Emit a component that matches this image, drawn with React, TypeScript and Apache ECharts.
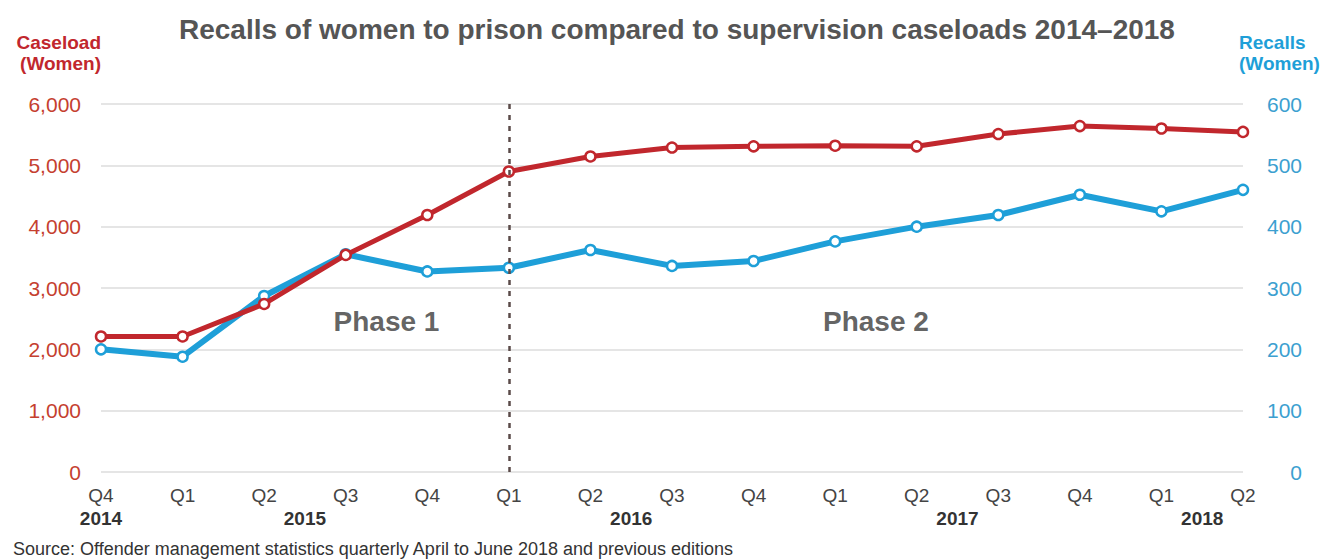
import React, { useEffect, useRef } from "react";
import * as echarts from "echarts";

const quarters = ["Q4", "Q1", "Q2", "Q3", "Q4", "Q1", "Q2", "Q3", "Q4", "Q1", "Q2", "Q3", "Q4", "Q1", "Q2"];
const periodYears = [2014, 2015, 2015, 2015, 2015, 2016, 2016, 2016, 2016, 2017, 2017, 2017, 2017, 2018, 2018];
const caseloadWomen = [2210, 2210, 2740, 3540, 4190, 4900, 5145, 5290, 5310, 5320, 5310, 5510, 5640, 5600, 5545];
const recallsWomen = [200, 188, 287, 355, 327, 333, 362, 336, 344, 376, 400, 419, 452, 425, 460];
const leftTicks = { min: 0, max: 6000, interval: 1000 };
const rightTicks = { min: 0, max: 600, interval: 100 };
const phaseBoundary = 5; // index of Q1 2016
const phaseLabels = [
  { text: "Phase 1", x: 3.5, y: 2450 },
  { text: "Phase 2", x: 9.5, y: 2450 },
];
const titleText = "Recalls of women to prison compared to supervision caseloads 2014–2018";
const sourceText = "Source: Offender management statistics quarterly April to June 2018 and previous editions";

const RED = "#c1272d";
const BLUE = "#1e9fd8";
const FONT = "Liberation Sans, Arial, Helvetica, sans-serif";

export default function App() {
  const ref = useRef<HTMLDivElement>(null);
  useEffect(() => {
    if (!ref.current) return;
    const chart = echarts.init(ref.current, null, { renderer: "svg" });
    const periods = quarters.map((q, i) => `${q} ${periodYears[i]}`);
    const uniqueYears = Array.from(new Set(periodYears));
    const yearPos = uniqueYears.map((y) => {
      const idx = periodYears.map((py, i) => (py === y ? i : -1)).filter((i) => i >= 0);
      return idx.reduce((a, b) => a + b, 0) / idx.length;
    });
    const yearAt = (v: number) => {
      const k = yearPos.findIndex((p) => Math.abs(p - v) < 1e-6);
      return k >= 0 ? String(uniqueYears[k]) : "";
    };
    chart.setOption({
      animation: false,
      textStyle: { fontFamily: FONT },
      title: [
        {
          text: titleText,
          left: 174,
          top: 10,
          textStyle: { fontSize: 28, fontWeight: "bold", color: "#555555", fontFamily: FONT },
        },
        {
          text: sourceText,
          left: 8,
          top: 535,
          textStyle: { fontSize: 18, fontWeight: "normal", color: "#333333", fontFamily: FONT },
        },
      ],
      grid: { left: 101, right: 86, top: 104, bottom: 87 },
      xAxis: [
        {
          type: "category",
          data: periods,
          boundaryGap: false,
          axisLine: { show: false },
          axisTick: { show: false },
          axisLabel: {
            formatter: (v: string) => v.split(" ")[0],
            fontSize: 19,
            color: "#444444",
            margin: 14,
            interval: 0,
          },
          splitLine: { show: false },
        },
        {
          type: "value",
          position: "bottom",
          min: 0,
          max: quarters.length - 1,
          axisLine: { show: false },
          axisTick: { show: false },
          splitLine: { show: false },
          axisLabel: {
            customValues: yearPos,
            formatter: (v: number) => yearAt(v),
            fontSize: 19,
            fontWeight: "bold",
            color: "#333333",
            margin: 37,
            showMinLabel: true,
            showMaxLabel: true,
          },
        },
      ],
      yAxis: [
        {
          type: "value",
          min: leftTicks.min,
          max: leftTicks.max,
          interval: leftTicks.interval,
          name: "Caseload\n(Women)",
          nameLocation: "end",
          nameGap: 30,
          nameTextStyle: { color: RED, fontWeight: "bold", fontSize: 19, lineHeight: 21, align: "right" },
          axisLine: { show: false },
          axisTick: { show: false },
          axisLabel: {
            fontSize: 21,
            color: "#c5402f",
            margin: 20,
            formatter: (v: number) => v.toLocaleString("en-US"),
          },
          splitLine: { lineStyle: { color: "#dddddd", width: 1.5 } },
        },
        {
          type: "value",
          min: rightTicks.min,
          max: rightTicks.max,
          interval: rightTicks.interval,
          name: "Recalls\n(Women)",
          nameLocation: "end",
          nameGap: 30,
          nameTextStyle: { color: BLUE, fontWeight: "bold", fontSize: 19, lineHeight: 21, align: "left", padding: [0, 0, 0, -4] },
          axisLine: { show: false },
          axisTick: { show: false },
          axisLabel: {
            fontSize: 21,
            color: "#3c9fd0",
            margin: 59,
            align: "right",
          },
          splitLine: { show: false },
        },
      ],
      series: [
        {
          name: "Recalls (Women)",
          type: "line",
          xAxisIndex: 0,
          yAxisIndex: 1,
          data: recallsWomen,
          symbol: "circle",
          symbolSize: 10,
          showAllSymbol: true,
          lineStyle: { color: BLUE, width: 6 },
          itemStyle: { color: "#ffffff", borderColor: BLUE, borderWidth: 2.5 },
          z: 3,
        },
        {
          name: "Caseload (Women)",
          type: "line",
          xAxisIndex: 0,
          yAxisIndex: 0,
          data: caseloadWomen,
          symbol: "circle",
          symbolSize: 10,
          showAllSymbol: true,
          lineStyle: { color: RED, width: 5 },
          itemStyle: { color: "#ffffff", borderColor: RED, borderWidth: 2.5 },
          z: 4,
          markLine: {
            silent: true,
            symbol: "none",
            label: { show: false },
            lineStyle: { color: "#5a4a48", width: 2.5, type: [5, 6] },
            data: [{ xAxis: periods[phaseBoundary] }],
          },
        },
        {
          name: "Phases",
          type: "scatter",
          xAxisIndex: 1,
          yAxisIndex: 0,
          silent: true,
          symbolSize: 0,
          data: phaseLabels.map((p) => ({ value: [p.x, p.y], name: p.text })),
          label: {
            show: true,
            position: "inside",
            formatter: (p: any) => p.name,
            fontSize: 28,
            fontWeight: "bold",
            color: "#3a3a3a",
            fontFamily: FONT,
          },
        },
      ],
    });
    return () => chart.dispose();
  }, []);
  return (
    <div
      ref={ref}
      style={{ position: "absolute", left: 0, top: 0, width: 1329, height: 559, background: "#ffffff" }}
    />
  );
}
